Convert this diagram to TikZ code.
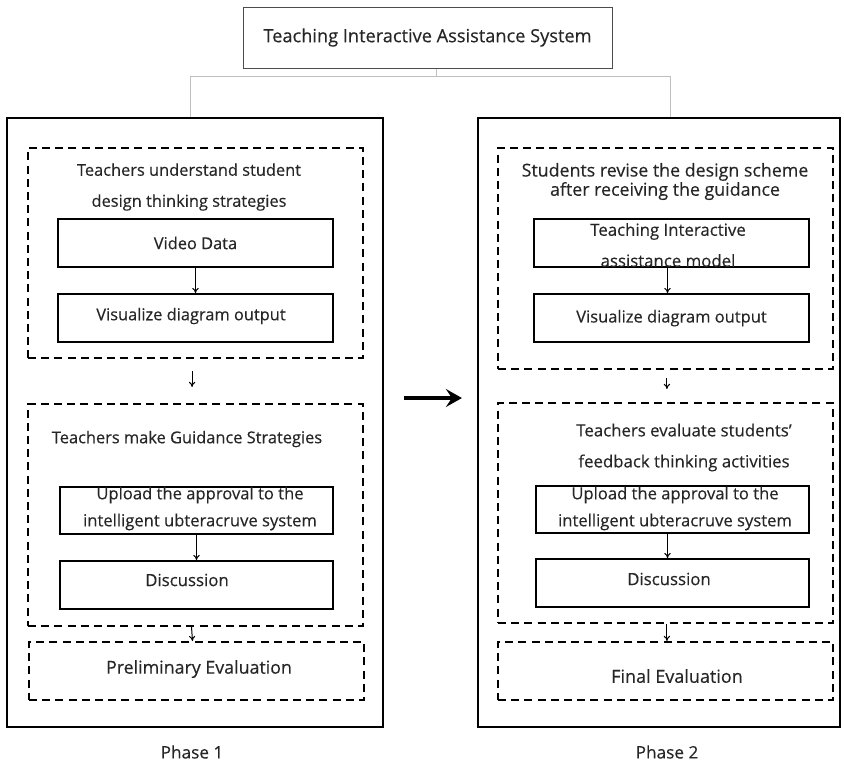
\documentclass[tikz,border=0pt]{standalone}
\usepackage{fontspec}
\setmainfont{Open Sans}
\newfontfamily\capfont{Open Sans}[FakeBold=0.35]
\usetikzlibrary{arrows.meta,positioning}

\newcommand\capsize[2]{\capfont\fontsize{#1}{#2}\selectfont}

\tikzset{
  headbox/.style={draw=black!70, line width=0.5pt, minimum width=184.5pt,
    minimum height=30.5pt},
  phasebox/.style={draw, line width=1.1pt, minimum height=304.5pt},
  dashbox/.style={draw, dash pattern=on 4pt off 2.6pt, line width=1pt,
    minimum width=167.5pt},
  stepbox/.style={draw, line width=1.1pt, minimum width=137.5pt,
    minimum height=24pt},
  caption/.style={inner sep=0pt, align=center, text=black!85,
    font=\capsize{#1}{15.5}},
  caption/.default=8.4,
  flow/.style={-{To[length=2.6pt,width=3.2pt]}, line width=0.5pt},
  link/.style={draw=black!25, line width=0.5pt}
}

\begin{document}
\begin{tikzpicture}[x=0.5pt, y=-0.5pt]
\useasboundingbox (0,0) rectangle (844,761);

% top of the tree
\node (system) [headbox, caption=9.1] at (427.5,37.5) {Teaching Interactive Assistance System};
\node (phaseA) [phasebox, minimum width=188pt] at (195,422.5) {};
\node (phaseB) [phasebox, minimum width=181pt] at (659,422.5) {};
\draw[link] ([xshift=4.5pt]system.south) -- ++(0,-4pt) coordinate (hub);
\draw[link] ([xshift=-2.5pt]phaseA.north) |- (hub) -| ([xshift=5.5pt]phaseB.north);

% phase 1
\node (dashA1) [dashbox, minimum height=105pt] at (195.5,253) {};
\node (textA1) [caption=8.2] at (189,187) {Teachers understand student\\design thinking strategies};
\node (videoA) [stepbox] at (195.5,243) {};
\node [caption=8.2] at (videoA) {Video Data};
\node (visA) [stepbox, below=12.5pt of videoA] {};
\node [caption=8.2] at (191,316) {Visualize diagram output};

\node (dashA2) [dashbox, minimum height=111pt] at (195.5,515) {};
\node (textA2) [caption=8.2] at (187,439) {Teachers make Guidance Strategies};
\node (uploadA) [stepbox, minimum width=136.5pt, minimum height=23.5pt] at (196.5,510.5) {};
\node [caption=8.3, font=\capsize{8.3}{13.5}] at (200,508.5) {Upload the approval to the\\intelligent ubteracruve system};
\node (discA) [stepbox, minimum width=136.5pt, below=12.5pt of uploadA] {};
\node [caption] at (187,580) {Discussion};

\node (prelimA) [dashbox, minimum height=29pt] at (196.5,671) {};
\node [caption=8.9] at (199,669) {Preliminary Evaluation};
\node (labelA) [caption=8.6] at (192,752) {Phase 1};

\draw[flow] (videoA) -- (visA);
\draw[flow, shorten >=8pt] ([xshift=-1.7pt]dashA1.south) ++(0,-6pt) -- ([xshift=-1.7pt]dashA2.north);
\draw[flow] (uploadA) -- (discA);
\draw[flow] ([xshift=-2pt]dashA2.south) -- ([xshift=-2pt]prelimA.north);

% phase 2
\node (dashB1) [dashbox, minimum height=110.5pt] at (665.5,258.5) {};
\node (textB1) [caption=8.9, font=\capsize{8.9}{9.6}] at (665,181.5) {Students revise the design scheme\\after receiving the guidance};
\node (teachB) [stepbox] at (671.5,243) {};
\node [caption] at (668,245) {Teaching Interactive\\assistance model};
\node (visB) [stepbox, below=12.5pt of teachB] {};
\node [caption=8.25] at (visB) {Visualize diagram output};

\node (dashB2) [dashbox, minimum height=110pt] at (665.5,513) {};
\node (textB2) [caption] at (684,447.5) {Teachers evaluate students’\\feedback thinking activities};
\node (uploadB) [stepbox, minimum width=136.5pt, minimum height=23.5pt] at (672.5,509.5) {};
\node [caption=8.3, font=\capsize{8.3}{13.5}] at (675,508.5) {Upload the approval to the\\intelligent ubteracruve system};
\node (discB) [stepbox, minimum width=136.5pt, below=12pt of uploadB] {};
\node [caption] at (669,579) {Discussion};

\node (finalB) [dashbox, minimum height=29pt] at (665.5,671) {};
\node [caption=9] at (677,676) {Final Evaluation};
\node (labelB) [caption=8.6] at (667,752) {Phase 2};

\draw[flow] ([xshift=-2pt]teachB.south) -- ([xshift=-2pt]visB.north);
\draw[flow, shorten >=6.5pt] ([xshift=0.7pt]dashB1.south) ++(0,-4pt) -- ([xshift=0.7pt]dashB2.north);
\draw[flow] ([xshift=-2.5pt]uploadB.south) -- ([xshift=-2.5pt]discB.north);
\draw[flow] ([xshift=0.7pt]dashB2.south) -- ([xshift=0.7pt]finalB.north);

% between the phases
\draw[-{Stealth[length=8pt,width=9pt,inset=3pt]}, line width=1.6pt, shorten <=10pt, shorten >=7.5pt]
  ([yshift=12.25pt]phaseA.east) -- ([yshift=12.25pt]phaseB.west);
\end{tikzpicture}
\end{document}
